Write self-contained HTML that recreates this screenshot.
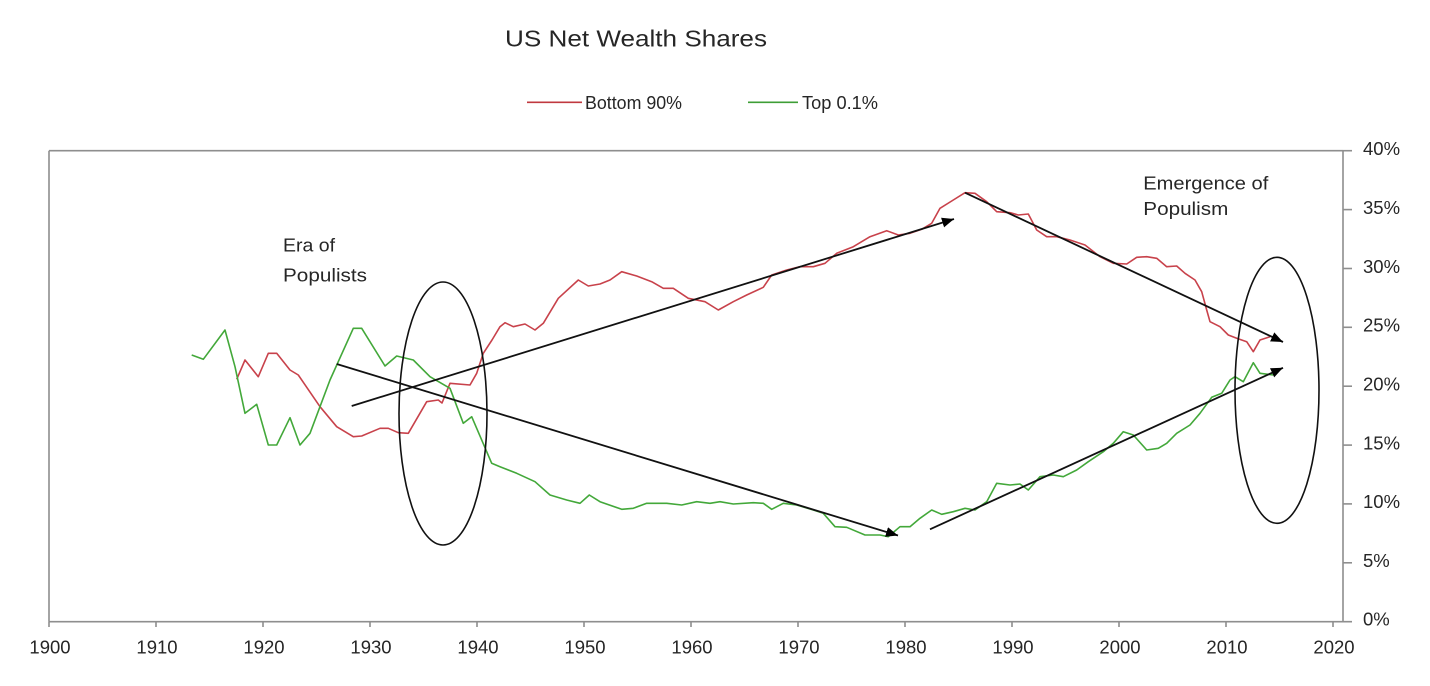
<!DOCTYPE html>
<html>
<head>
<meta charset="utf-8">
<style>
  html, body { margin: 0; padding: 0; background: #ffffff; }
  body { width: 1430px; height: 686px; overflow: hidden; }
  svg { display: block; }
  text { font-family: "Liberation Sans", "DejaVu Sans", sans-serif; fill: #262626; }
</style>
</head>
<body>
<svg width="1430" height="686" viewBox="0 0 1430 686" xmlns="http://www.w3.org/2000/svg">
  <defs>
    <marker id="ah" markerUnits="userSpaceOnUse" markerWidth="12" markerHeight="10" refX="12" refY="5" orient="auto">
      <path d="M0,0 L12,5 L0,10 Z" fill="#000"/>
    </marker>
  </defs>

  <!-- Title -->
  <text x="505" y="46.5" font-size="23" textLength="262" lengthAdjust="spacingAndGlyphs">US Net Wealth Shares</text>

  <!-- Legend -->
  <line x1="527" y1="102.3" x2="582" y2="102.3" stroke="#c0393f" stroke-width="1.6"/>
  <text x="585" y="108.8" font-size="18" textLength="97" lengthAdjust="spacingAndGlyphs">Bottom 90%</text>
  <line x1="748" y1="102.3" x2="798" y2="102.3" stroke="#3e9e36" stroke-width="1.6"/>
  <text x="802" y="108.8" font-size="18" textLength="76" lengthAdjust="spacingAndGlyphs">Top 0.1%</text>

  <!-- Plot frame -->
  <g stroke="#8e8e8e" stroke-width="1.6" fill="none">
    <line x1="49" y1="150.7" x2="1343" y2="150.7"/>
    <line x1="49" y1="150.7" x2="49" y2="621.7"/>
    <line x1="1343" y1="150.7" x2="1343" y2="621.7"/>
    <line x1="49" y1="621.7" x2="1352" y2="621.7"/>
    <!-- right axis ticks -->
    <line x1="1343" y1="150.7" x2="1352" y2="150.7"/>
    <line x1="1343" y1="209.6" x2="1352" y2="209.6"/>
    <line x1="1343" y1="268.5" x2="1352" y2="268.5"/>
    <line x1="1343" y1="327.3" x2="1352" y2="327.3"/>
    <line x1="1343" y1="386.2" x2="1352" y2="386.2"/>
    <line x1="1343" y1="445.1" x2="1352" y2="445.1"/>
    <line x1="1343" y1="503.9" x2="1352" y2="503.9"/>
    <line x1="1343" y1="562.8" x2="1352" y2="562.8"/>
    <!-- bottom ticks -->
    <line x1="49" y1="621.7" x2="49" y2="627"/>
    <line x1="156" y1="621.7" x2="156" y2="627"/>
    <line x1="263" y1="621.7" x2="263" y2="627"/>
    <line x1="370" y1="621.7" x2="370" y2="627"/>
    <line x1="477" y1="621.7" x2="477" y2="627"/>
    <line x1="584" y1="621.7" x2="584" y2="627"/>
    <line x1="691" y1="621.7" x2="691" y2="627"/>
    <line x1="798" y1="621.7" x2="798" y2="627"/>
    <line x1="905" y1="621.7" x2="905" y2="627"/>
    <line x1="1012" y1="621.7" x2="1012" y2="627"/>
    <line x1="1119" y1="621.7" x2="1119" y2="627"/>
    <line x1="1226" y1="621.7" x2="1226" y2="627"/>
    <line x1="1333" y1="621.7" x2="1333" y2="627"/>
  </g>

  <!-- Right axis labels -->
  <g font-size="18.5">
    <text x="1363" y="155">40%</text>
    <text x="1363" y="214">35%</text>
    <text x="1363" y="273">30%</text>
    <text x="1363" y="331.5">25%</text>
    <text x="1363" y="390.5">20%</text>
    <text x="1363" y="449.5">15%</text>
    <text x="1363" y="508">10%</text>
    <text x="1363" y="567">5%</text>
    <text x="1363" y="625.5">0%</text>
  </g>

  <!-- Bottom axis labels -->
  <g font-size="18.5" text-anchor="middle">
    <text x="50" y="653.5">1900</text>
    <text x="157" y="653.5">1910</text>
    <text x="264" y="653.5">1920</text>
    <text x="371" y="653.5">1930</text>
    <text x="478" y="653.5">1940</text>
    <text x="585" y="653.5">1950</text>
    <text x="692" y="653.5">1960</text>
    <text x="799" y="653.5">1970</text>
    <text x="906" y="653.5">1980</text>
    <text x="1013" y="653.5">1990</text>
    <text x="1120" y="653.5">2000</text>
    <text x="1227" y="653.5">2010</text>
    <text x="1334" y="653.5">2020</text>
  </g>

  <!-- Bottom 90% series -->
  <polyline fill="none" stroke="#c8424b" stroke-width="1.6" stroke-linejoin="round" points="
    236.7,379.3 245,360 258.3,376.7 268.3,353.3 276.7,353.3 290,370 298.3,375 320,406.7 336.7,426.7
    353.3,436.7 361.7,436 380,428.3 388.3,428.3 398.3,432.7 408.3,433.3 426.7,401.7 438.3,400 442,403
    450,383.3 470,385 476.7,373.3 483.3,353.3 492,340 500,326.7 505,322.7 513.3,326.7 525,324 535,330
    543.3,323.3 558.3,298.3 578.3,280 588.3,286 600,284 610,280 621.7,271.7 636.7,276 651.7,281.7
    663.3,288.3 673.3,288.3 688.3,298.3 705,301.7 718.3,310 733.3,301.7 746.7,295 763.3,287.3
    771.7,275 786.7,270 800,266.7 813.3,266.7 825,263.3 836.7,253.3 853.3,246.7 870,236.7 886.7,230.7
    898.3,235 910,233.3 921.7,229.3 931.7,223.3 940,208.3 953.3,200 965,192.7 975,193.3 986.7,201.7
    996.7,211.7 1010,212.7 1018.3,215 1028.3,214 1036.7,230 1046.7,236.7 1056.7,236.7 1070,240
    1085,245 1100,256.7 1113.3,263.3 1126.7,264 1136.7,257.3 1146.7,256.7 1156.7,258.3 1166.7,266.7
    1176.7,266 1185,273.3 1195,280 1201.7,291.7 1206.7,310 1210,321.7 1220,326.7 1228.3,335
    1236.7,338.3 1246.7,341.7 1253.3,351.7 1260,340 1270,336.7"/>

  <!-- Top 0.1% series -->
  <polyline fill="none" stroke="#43a83a" stroke-width="1.6" stroke-linejoin="round" points="
    191.7,355 203.3,359.3 225,330 235,366.7 245,413.3 256.7,404.3 268.3,445 276.7,445 290,417.7
    300,445 310,433.3 330,380 353.3,328.3 361.7,328.3 385,366 396.7,356 413.3,360 430,376.7
    450,388.3 463.3,423.3 471.7,416.7 491.7,463.3 500,466.7 516.7,473.3 535,481.7 550,495 566.7,500
    580,503.3 589.3,495 600,501.7 621.7,509.3 633.3,508.3 646.7,503.3 666.7,503.3 681.7,505
    696.7,501.7 710,503.3 720,501.7 733.3,504 753.3,502.7 763.3,503.3 771.7,509.3 783.3,503.3
    796.7,505 813.3,510 823.3,513.3 835,526.7 846.7,527.3 865,535 880,535 888.3,536.7 900,526.7
    910,526.7 920,518.3 931.7,510 941.7,514.3 953.3,511.7 965,508.3 975,510 986.7,501.7 996.7,483.3
    1010,485 1020,484 1028.3,490 1040,476.7 1053.3,475 1063.3,476.7 1076.7,470 1088.3,461.7
    1103.3,451.7 1113.3,443.3 1123.3,431.7 1133.3,435 1146.7,450 1158.3,448.3 1166.7,443.3
    1176.7,433.3 1190,425 1200,413.3 1211.7,397.3 1221.7,393.3 1230,380 1235,376.7 1243.3,381.7
    1253.3,362.7 1260,373.3 1273.3,375"/>

  <!-- Ellipses -->
  <ellipse cx="443" cy="413.5" rx="44" ry="131.5" fill="none" stroke="#111" stroke-width="1.6"/>
  <ellipse cx="1277" cy="390.3" rx="42" ry="133" fill="none" stroke="#111" stroke-width="1.6"/>

  <!-- Arrows -->
  <g stroke="#111" stroke-width="1.8" fill="none">
    <line x1="336.7" y1="364" x2="898" y2="535.5" marker-end="url(#ah)"/>
    <line x1="351.7" y1="406" x2="954" y2="219" marker-end="url(#ah)"/>
    <line x1="965" y1="192.7" x2="1283" y2="342" marker-end="url(#ah)"/>
    <line x1="930" y1="529.3" x2="1283" y2="367.8" marker-end="url(#ah)"/>
  </g>

  <!-- Annotations -->
  <g font-size="18.5">
    <text x="283" y="251.7" textLength="52" lengthAdjust="spacingAndGlyphs">Era of</text>
    <text x="283" y="281.7" textLength="84" lengthAdjust="spacingAndGlyphs">Populists</text>
    <text x="1143.3" y="189.3" textLength="125" lengthAdjust="spacingAndGlyphs">Emergence of</text>
    <text x="1143.3" y="215" textLength="85" lengthAdjust="spacingAndGlyphs">Populism</text>
  </g>
</svg>
</body>
</html>
